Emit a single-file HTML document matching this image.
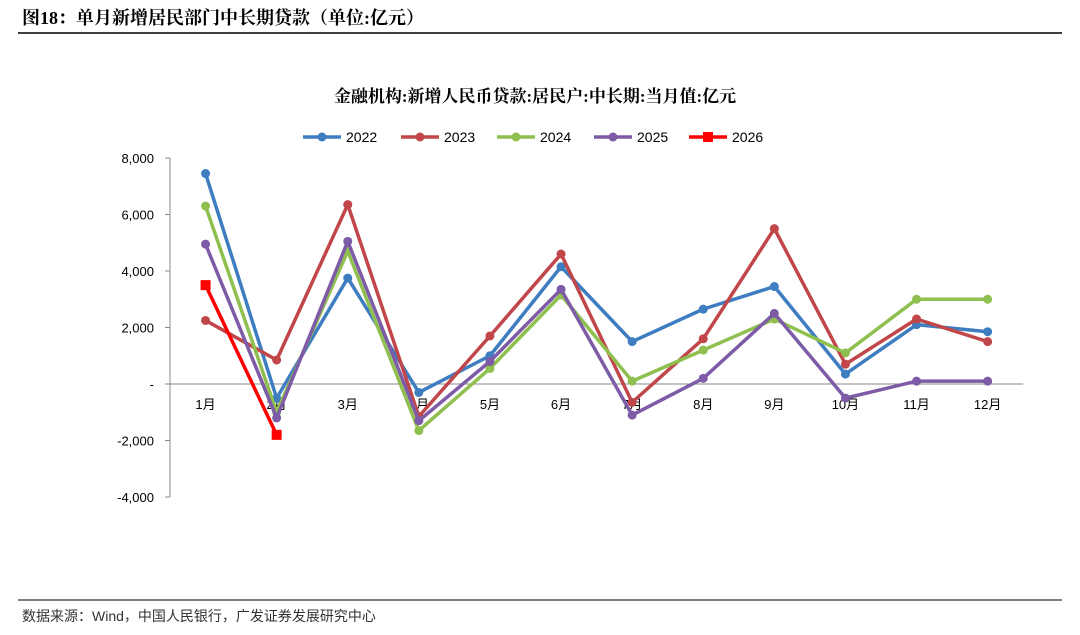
<!DOCTYPE html>
<html><head><meta charset="utf-8">
<style>
body{margin:0;background:#fff;width:1080px;height:630px;overflow:hidden;font-family:"Liberation Sans","Noto Sans CJK SC",sans-serif;}
svg text{font-family:"Liberation Sans","Noto Sans CJK SC",sans-serif;}
svg text.serif{font-family:"Liberation Serif","Noto Serif CJK SC",serif;}
</style></head><body>
<svg width="1080" height="630">
<text class="serif" x="22" y="24" font-size="18" font-weight="bold" fill="#000">图18：单月新增居民部门中长期贷款（单位:亿元）</text>
<line x1="18" y1="33" x2="1062" y2="33" stroke="#000" stroke-width="1.5"/>
<text class="serif" x="535" y="102" font-size="17" font-weight="bold" text-anchor="middle">金融机构:新增人民币贷款:居民户:中长期:当月值:亿元</text>
<g id="legend"></g>
<g id="axes"></g>
<g id="series"></g>
<line x1="18" y1="600" x2="1062" y2="600" stroke="#000" stroke-width="1"/>
<text x="22" y="621" font-size="14" fill="#333">数据来源：Wind，中国人民银行，广发证券发展研究中心</text>
</svg>
<script>
const categories=["1月","2月","3月","4月","5月","6月","7月","8月","9月","10月","11月","12月"];
const yTicks=[8000,6000,4000,2000,0,-2000,-4000];
const yTickLabels=["8,000","6,000","4,000","2,000","-","-2,000","-4,000"];
const seriesNames=["2022","2023","2024","2025","2026"];
const s2022=[7450,-500,3750,-300,1000,4150,1500,2650,3450,350,2100,1850];
const s2023=[2250,850,6350,-1150,1700,4600,-650,1600,5500,700,2300,1500];
const s2024=[6300,-1000,4700,-1650,550,3150,100,1200,2300,1100,3000,3000];
const s2025=[4950,-1200,5050,-1300,800,3350,-1100,200,2500,-500,100,100];
const s2026=[3500,-1800];
const colors=["#3e7dc0","#c0464a","#8fbf4f","#7d5ba6","#ff0000"];
const NS="http://www.w3.org/2000/svg";
const x0=170,cw=71.1,y0=384,pxPer=56.5/2000;
const X=i=>x0+cw*(i+0.5), Y=v=>y0-v*pxPer;
function mk(t,a,p){const e=document.createElementNS(NS,t);for(const k in a)e.setAttribute(k,a[k]);p.appendChild(e);return e;}
const axes=document.getElementById('axes');
let yl=mk('line',{x1:x0,y1:Y(8000),x2:x0,y2:Y(-4000),stroke:'#888'},axes);


let xl=mk('line',{x1:x0,y1:y0,x2:x0+cw*12,y2:y0,stroke:'#888'},axes);


yTicks.forEach((v,i)=>{
 mk('line',{x1:x0-5,y1:Y(v),x2:x0,y2:Y(v),stroke:'#888'},axes);
 const t=mk('text',{x:x0-16,y:Y(v)+5,'font-size':13,'text-anchor':'end'},axes);t.textContent=yTickLabels[i];
 
 
});
categories.forEach((c,i)=>{
 const t=mk('text',{x:X(i),y:409,'font-size':13,'text-anchor':'middle'},axes);t.textContent=c;
 
 
});
const all=[s2022,s2023,s2024,s2025,s2026];
const sg=document.getElementById('series');
all.forEach((d,si)=>{
 const g=mk('g',{},sg);
 
 
 mk('polyline',{points:d.map((v,i)=>X(i)+','+Y(v)).join(' '),fill:'none',stroke:colors[si],'stroke-width':3.5,'stroke-linejoin':'round'},g);
 d.forEach((v,i)=>{
  let m;
  if(si==4)m=mk('rect',{x:X(i)-5,y:Y(v)-5,width:10,height:10,fill:colors[si]},g);
  else m=mk('circle',{cx:X(i),cy:Y(v),r:4.5,fill:colors[si]},g);
  
  
 });
});
const lg=document.getElementById('legend');
const lx=[303,401,497,594,689];
seriesNames.forEach((n,i)=>{
 const g=mk('g',{},lg);
 
 
 mk('line',{x1:lx[i],y1:137,x2:lx[i]+38,y2:137,stroke:colors[i],'stroke-width':3.5},g);
 if(i==4)mk('rect',{x:lx[i]+14,y:132,width:10,height:10,fill:colors[i]},g);
 else mk('circle',{cx:lx[i]+19,cy:137,r:4.5,fill:colors[i]},g);
 const t=mk('text',{x:lx[i]+43,y:142,'font-size':14},g);t.textContent=n;
});
</script>
</body></html>
